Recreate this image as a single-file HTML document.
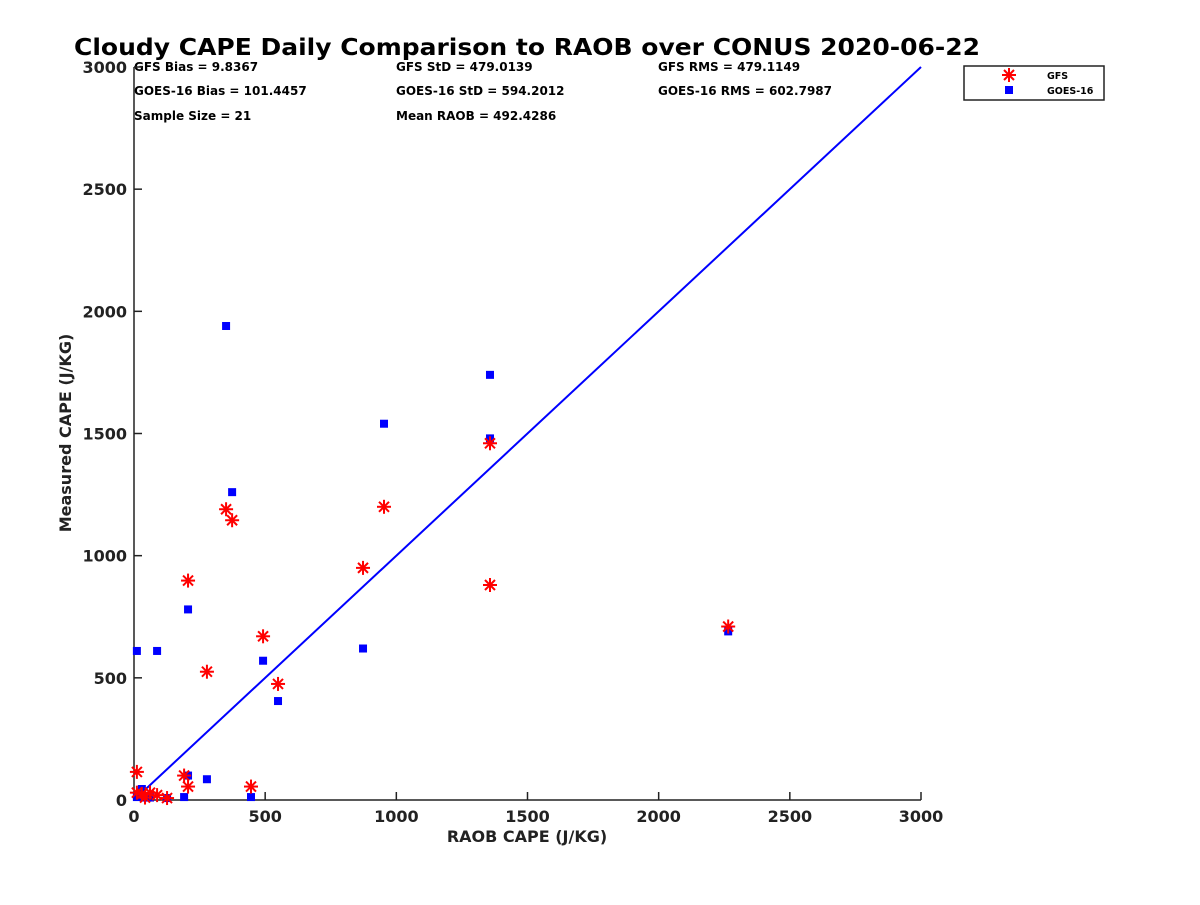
<!DOCTYPE html>
<html><head><meta charset="utf-8"><style>
body{margin:0;background:#fff}
svg text{font-family:"DejaVu Sans","Liberation Sans",sans-serif;font-weight:bold}
</style></head><body>
<svg id="c" width="1200" height="900">
<text x="527" y="55" text-anchor="middle" font-size="23" textLength="906" lengthAdjust="spacingAndGlyphs">Cloudy CAPE Daily Comparison to RAOB over CONUS 2020-06-22</text>
<g font-size="12">
<text x="134" y="71">GFS Bias = 9.8367</text>
<text x="134" y="95">GOES-16 Bias = 101.4457</text>
<text x="134" y="120">Sample Size = 21</text>
<text x="396" y="71">GFS StD = 479.0139</text>
<text x="396" y="95">GOES-16 StD = 594.2012</text>
<text x="396" y="120">Mean RAOB = 492.4286</text>
<text x="658" y="71">GFS RMS = 479.1149</text>
<text x="658" y="95">GOES-16 RMS = 602.7987</text>
</g>
<g id="axes"></g>
<g id="marks"></g>
<g>
<rect x="964" y="66" width="140" height="34" fill="#fff" stroke="#222" stroke-width="1.5"/>
<g stroke="#f00" stroke-width="2">
<line x1="1002" y1="75" x2="1016" y2="75"/><line x1="1009" y1="68" x2="1009" y2="82"/><line x1="1004" y1="70" x2="1014" y2="80"/><line x1="1004" y1="80" x2="1014" y2="70"/></g>
<rect x="1005" y="86" width="8" height="8" fill="#00f"/>
<text x="1047" y="79" font-size="9.5">GFS</text>
<text x="1047" y="94" font-size="9.5">GOES-16</text>
</g>
</svg>
<script>
const raob=[11,11,30,42,61,88,126,191,206,206,278,351,374,446,492,549,873,953,1357,1357,2265];
const gfs=[115,30,25,10,30,20,8,100,55,898,525,1190,1145,55,670,475,950,1200,1460,880,710];
const goes=[610,12,45,10,10,610,8,12,100,780,85,1940,1260,12,570,405,620,1540,1740,1480,690];
const ticks=[0,500,1000,1500,2000,2500,3000];
const NS="http://www.w3.org/2000/svg";
const X0=134,X1=921,Y0=800,Y1=67;
const sx=v=>X0+(X1-X0)*v/3000, sy=v=>Y0-(Y0-Y1)*v/3000;
function mk(t,a,p){const e=document.createElementNS(NS,t);for(const k in a)e.setAttribute(k,a[k]);p.appendChild(e);return e;}
const ax=document.getElementById('axes'), mg=document.getElementById('marks');
let l=mk('line',{x1:X0,y1:Y0,x2:X1,y2:Y0,stroke:'#222','stroke-width':1.5},ax);


l=mk('line',{x1:X0,y1:Y0,x2:X0,y2:Y1,stroke:'#222','stroke-width':1.5},ax);


ticks.forEach(t=>{
 mk('line',{x1:sx(t),y1:Y0,x2:sx(t),y2:Y0-8,stroke:'#222','stroke-width':1.5},ax);
 mk('line',{x1:X0,y1:sy(t),x2:X0+8,y2:sy(t),stroke:'#222','stroke-width':1.5},ax);
 let e=mk('text',{x:sx(t),y:Y0+22,'text-anchor':'middle','font-size':16,fill:'#222'},ax);e.textContent=t;
 
 
 e=mk('text',{x:X0-7,y:sy(t)+6,'text-anchor':'end','font-size':16,fill:'#222'},ax);e.textContent=t;
 
 
});
let e=mk('text',{x:527,y:842,'text-anchor':'middle','font-size':16,fill:'#222'},ax);e.textContent='RAOB CAPE (J/KG)';


e=mk('text',{x:0,y:0,'text-anchor':'middle','font-size':16,fill:'#222',transform:'translate(71,433) rotate(-90)'},ax);e.textContent='Measured CAPE (J/KG)';


l=mk('line',{x1:sx(0),y1:sy(0),x2:sx(3000),y2:sy(3000),stroke:'#00f','stroke-width':2},mg);


raob.forEach((r,i)=>{
 const q=mk('rect',{x:sx(r)-4,y:sy(goes[i])-4,width:8,height:8,fill:'#00f'},mg);
 
 
});
raob.forEach((r,i)=>{
 const cx=sx(r),cy=sy(gfs[i]);
 const g=mk('g',{stroke:'#f00','stroke-width':2},mg);
 
 
 mk('line',{x1:cx-7,y1:cy,x2:cx+7,y2:cy},g);
 mk('line',{x1:cx,y1:cy-7,x2:cx,y2:cy+7},g);
 mk('line',{x1:cx-5,y1:cy-5,x2:cx+5,y2:cy+5},g);
 mk('line',{x1:cx-5,y1:cy+5,x2:cx+5,y2:cy-5},g);
});
</script>
</body></html>
